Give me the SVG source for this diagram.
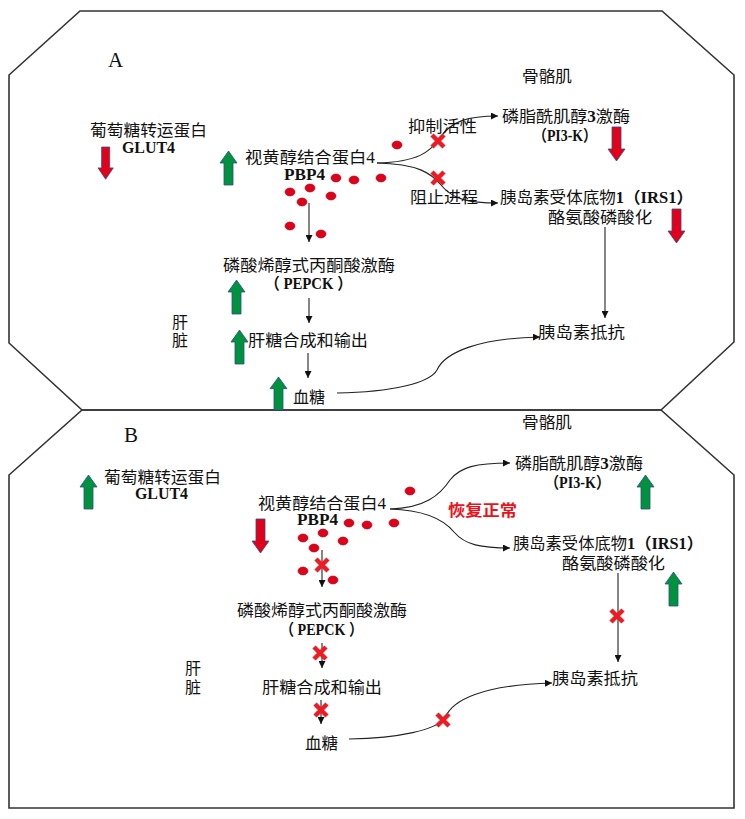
<svg xmlns="http://www.w3.org/2000/svg" xmlns:xlink="http://www.w3.org/1999/xlink" width="745" height="819" viewBox="0 0 745 819">
<defs>
<style>
.t{font-family:"Liberation Serif","Noto Sans CJK SC",serif;font-size:16px;fill:#111}
.b{font-weight:bold}
.red{fill:#e8141c;font-weight:bold}
.frame{fill:none;stroke:#333;stroke-width:1.6}
.c{fill:none;stroke:#222;stroke-width:1.1}
.dot{fill:#e0001a;stroke:#9a0010;stroke-width:0.6}
.x{stroke:#ec1c24;stroke-width:4.5;fill:none}
.up{fill:#00923f;stroke:#2f4f7f;stroke-width:0.8}
.dn{fill:#e3001b;stroke:#2f4f7f;stroke-width:0.8}
</style>
<marker id="ah" viewBox="0 0 10 10" refX="10" refY="5" markerWidth="7" markerHeight="7" markerUnits="userSpaceOnUse" orient="auto">
<path d="M0,0 L10,5 L0,10 Z" fill="#111"/>
</marker>
<path id="upA" class="up" d="M4,34 V12 H0 L8.5,0 L17,12 H13 V34 Z"/>
<path id="dnA" class="dn" d="M4,0 V22 H0 L8.5,34 L17,22 H13 V0 Z"/>
<path id="xm" class="x" d="M-6,-6 L6,6 M6,-6 L-6,6"/>
</defs>
<rect width="745" height="819" fill="#fff"/>

<g id="frames">
<polygon class="frame" points="80,11 662,11 734,75 734,342 661,410 82,410 9,343 9,75"/>
<polygon class="frame" points="82,410 661,410 734,475 734,808 9,808 9,475"/>
</g>

<g id="connectors">
<line class="c" x1="309" y1="203" x2="309" y2="242" marker-end="url(#ah)"/>
<path class="c" d="M377,163 C418,162 430,152 440,138 C451,121 468,116 498,116" marker-end="url(#ah)"/>
<path class="c" d="M377,163 C418,164 431,173 441,185 C453,200 470,203 498,203" marker-end="url(#ah)"/>
<line class="c" x1="309" y1="298" x2="309" y2="323" marker-end="url(#ah)"/>
<line class="c" x1="308" y1="353" x2="308" y2="378" marker-end="url(#ah)"/>
<line class="c" x1="605" y1="227" x2="605" y2="318" marker-end="url(#ah)"/>
<path class="c" d="M337,393 C392,392 430,383 437,370 C445,352 480,338 540,337" marker-end="url(#ah)"/>

<line class="c" x1="322" y1="550" x2="322" y2="587" marker-end="url(#ah)"/>
<path class="c" d="M390,509 C425,508 440,495 450,480 C460,467 476,463 510,463" marker-end="url(#ah)"/>
<path class="c" d="M390,509 C425,510 444,520 454,532 C465,545 481,548 510,548" marker-end="url(#ah)"/>
<line class="c" x1="322" y1="643" x2="322" y2="668" marker-end="url(#ah)"/>
<line class="c" x1="321" y1="700" x2="321" y2="724" marker-end="url(#ah)"/>
<line class="c" x1="618" y1="573" x2="618" y2="662" marker-end="url(#ah)"/>
<path class="c" d="M349,739 C400,738 436,730 445,718 C452,700 482,685 552,683" marker-end="url(#ah)"/>
</g>

<g id="panelA">
<text class="t" x="108" y="67" style="font-size:21px">A</text>
<g id="a-muscle"><text class="t" x="522" y="82" textLength="50" lengthAdjust="spacingAndGlyphs">骨骼肌</text></g>
<g id="a-glut4">
<text class="t" x="90" y="136" textLength="117" lengthAdjust="spacingAndGlyphs">葡萄糖转运蛋白</text>
<text class="t b" x="122" y="153" textLength="53" lengthAdjust="spacingAndGlyphs">GLUT4</text>
<use xlink:href="#dnA" transform="translate(98,147) scale(0.9,0.95)"/>
</g>
<g id="a-rbp4">
<text class="t" x="245" y="163" textLength="130" lengthAdjust="spacingAndGlyphs">视黄醇结合蛋白4</text>
<text class="t b" x="284" y="180" textLength="41" lengthAdjust="spacingAndGlyphs">PBP4</text>
<use xlink:href="#upA" transform="translate(220,151)"/>
<ellipse class="dot" cx="397" cy="145" rx="5" ry="4"/>
<ellipse class="dot" cx="336" cy="178" rx="5" ry="4"/>
<ellipse class="dot" cx="354" cy="180" rx="5" ry="4"/>
<ellipse class="dot" cx="381" cy="178" rx="5" ry="4"/>
<ellipse class="dot" cx="290" cy="192" rx="5" ry="4"/>
<ellipse class="dot" cx="310" cy="188" rx="5" ry="4"/>
<ellipse class="dot" cx="331" cy="196" rx="5" ry="4"/>
<ellipse class="dot" cx="302" cy="202" rx="5" ry="4"/>
<ellipse class="dot" cx="290" cy="226" rx="5" ry="4"/>
<ellipse class="dot" cx="321" cy="234" rx="5" ry="4"/>
</g>
<g id="a-inhibit"><text class="t" x="408" y="132" textLength="69" lengthAdjust="spacingAndGlyphs">抑制活性</text><use xlink:href="#xm" x="438" y="141"/></g>
<g id="a-block"><text class="t" x="410" y="203" textLength="68" lengthAdjust="spacingAndGlyphs">阻止进程</text><use xlink:href="#xm" x="438" y="178"/></g>
<g id="a-pi3k">
<text class="t" x="502" y="122" textLength="128" lengthAdjust="spacingAndGlyphs">磷脂酰肌醇<tspan class="b">3</tspan>激酶</text>
<text class="t b" x="533" y="141" textLength="64" lengthAdjust="spacingAndGlyphs">（PI3-K）</text>
<use xlink:href="#dnA" transform="translate(608,127)"/>
</g>
<g id="a-irs1">
<text class="t" x="500" y="203" textLength="193" lengthAdjust="spacingAndGlyphs">胰岛素受体底物<tspan class="b">1（IRS1）</tspan></text>
<text class="t" x="548" y="223" textLength="104" lengthAdjust="spacingAndGlyphs">酪氨酸磷酸化</text>
<use xlink:href="#dnA" transform="translate(668,209)"/>
</g>
<g id="a-pepck">
<text class="t" x="223" y="271" textLength="172" lengthAdjust="spacingAndGlyphs">磷酸烯醇式丙酮酸激酶</text>
<text class="t b" x="265" y="289" textLength="87" lengthAdjust="spacingAndGlyphs">（ PEPCK ）</text>
<use xlink:href="#upA" transform="translate(228,280)"/>
</g>
<g id="a-liver"><text class="t" x="172" y="328">肝</text><text class="t" x="172" y="346">脏</text></g>
<g id="a-glycogen">
<text class="t" x="248" y="346" textLength="120" lengthAdjust="spacingAndGlyphs">肝糖合成和输出</text>
<use xlink:href="#upA" transform="translate(231,330)"/>
</g>
<g id="a-glucose">
<text class="t" x="293" y="403" textLength="32" lengthAdjust="spacingAndGlyphs">血糖</text>
<use xlink:href="#upA" transform="translate(270,377) scale(1,0.97)"/>
</g>
<g id="a-ir"><text class="t" x="538" y="338" textLength="87" lengthAdjust="spacingAndGlyphs">胰岛素抵抗</text></g>
</g>

<g id="panelB">
<text class="t" x="124" y="442" style="font-size:21px">B</text>
<g id="b-muscle"><text class="t" x="522" y="428" textLength="50" lengthAdjust="spacingAndGlyphs">骨骼肌</text></g>
<g id="b-glut4">
<text class="t" x="104" y="483" textLength="117" lengthAdjust="spacingAndGlyphs">葡萄糖转运蛋白</text>
<text class="t b" x="135" y="499" textLength="53" lengthAdjust="spacingAndGlyphs">GLUT4</text>
<use xlink:href="#upA" transform="translate(80,475)"/>
</g>
<g id="b-rbp4">
<text class="t" x="258" y="509" textLength="128" lengthAdjust="spacingAndGlyphs">视黄醇结合蛋白4</text>
<text class="t b" x="297" y="525" textLength="41" lengthAdjust="spacingAndGlyphs">PBP4</text>
<use xlink:href="#dnA" transform="translate(252,519)"/>
<ellipse class="dot" cx="410" cy="491" rx="5" ry="4"/>
<ellipse class="dot" cx="394" cy="523" rx="5" ry="4"/>
<ellipse class="dot" cx="349" cy="523" rx="5" ry="4"/>
<ellipse class="dot" cx="367" cy="525" rx="5" ry="4"/>
<ellipse class="dot" cx="303" cy="538" rx="5" ry="4"/>
<ellipse class="dot" cx="323" cy="533" rx="5" ry="4"/>
<ellipse class="dot" cx="343" cy="541" rx="5" ry="4"/>
<ellipse class="dot" cx="314" cy="548" rx="5" ry="4"/>
<ellipse class="dot" cx="303" cy="571" rx="5" ry="4"/>
<ellipse class="dot" cx="333" cy="580" rx="5" ry="4"/>
<use xlink:href="#xm" x="322" y="565"/>
</g>
<g id="b-restore"><text class="t red" x="448" y="516" textLength="69" lengthAdjust="spacingAndGlyphs">恢复正常</text></g>
<g id="b-pi3k">
<text class="t" x="515" y="469" textLength="128" lengthAdjust="spacingAndGlyphs">磷脂酰肌醇<tspan class="b">3</tspan>激酶</text>
<text class="t b" x="545" y="488" textLength="65" lengthAdjust="spacingAndGlyphs">（PI3-K）</text>
<use xlink:href="#upA" transform="translate(637,475)"/>
</g>
<g id="b-irs1">
<text class="t" x="513" y="549" textLength="190" lengthAdjust="spacingAndGlyphs">胰岛素受体底物<tspan class="b">1（IRS1）</tspan></text>
<text class="t" x="562" y="569" textLength="103" lengthAdjust="spacingAndGlyphs">酪氨酸磷酸化</text>
<use xlink:href="#upA" transform="translate(665,572)"/>
<use xlink:href="#xm" x="617" y="616"/>
</g>
<g id="b-pepck">
<text class="t" x="237" y="616" textLength="170" lengthAdjust="spacingAndGlyphs">磷酸烯醇式丙酮酸激酶</text>
<text class="t b" x="280" y="635" textLength="83" lengthAdjust="spacingAndGlyphs">（ PEPCK ）</text>
<use xlink:href="#xm" x="320" y="653"/>
</g>
<g id="b-liver"><text class="t" x="185" y="674">肝</text><text class="t" x="185" y="693">脏</text></g>
<g id="b-glycogen">
<text class="t" x="262" y="693" textLength="120" lengthAdjust="spacingAndGlyphs">肝糖合成和输出</text>
<use xlink:href="#xm" x="321" y="710"/>
</g>
<g id="b-glucose">
<text class="t" x="305" y="749" textLength="33" lengthAdjust="spacingAndGlyphs">血糖</text>
<use xlink:href="#xm" x="443" y="720"/>
</g>
<g id="b-ir"><text class="t" x="552" y="684" textLength="86" lengthAdjust="spacingAndGlyphs">胰岛素抵抗</text></g>
</g>
</svg>
